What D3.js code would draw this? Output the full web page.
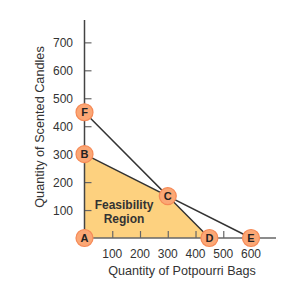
<!DOCTYPE html>
<html>
<head>
<meta charset="utf-8">
<script src="https://d3js.org/d3.v7.min.js"></script>
<style>
body { margin: 0; background: #fff; }
text { font-family: "Liberation Sans", Arial, sans-serif; }
</style>
</head>
<body>
<div id="chart"></div>
<script>
// datos
var xTicks = [100, 200, 300, 400, 500, 600];
var yTicks = [100, 200, 300, 400, 500, 600, 700];
var pointNames = ["A", "B", "C", "D", "E", "F"];
var pointX = [0, 0, 300, 450, 600, 0];
var pointY = [0, 300, 150, 0, 0, 450];
var region = ["A", "B", "C", "D"];
var lineFE = ["F", "C", "E"];
var lineBD = ["B", "C", "D"];

var width = 303, height = 293;

var pts = {};
pointNames.forEach(function(n, i) { pts[n] = {name: n, x: pointX[i], y: pointY[i]}; });

// escalas
var eX = d3.scaleLinear().domain([0, 690]).range([84.5, 276]);
var eY = d3.scaleLinear().domain([0, 780]).range([238, 20]);

var svg = d3.select("#chart").append("svg")
  .attr("width", width)
  .attr("height", height);

// region factible
svg.append("path")
  .attr("d", d3.line().x(function(d){ return eX(pts[d].x); }).y(function(d){ return eY(pts[d].y); })(region) + "Z")
  .style("fill", "#fdd17f");

// ejes
var xAxis = d3.axisTop(eX).tickValues(xTicks).tickSize(7).tickFormat("");
var yAxis = d3.axisRight(eY).tickValues(yTicks).tickSize(7).tickFormat("");

svg.append("g").attr("class", "x axis")
  .attr("transform", "translate(0," + eY(0) + ")")
  .call(xAxis);
svg.append("g").attr("class", "y axis")
  .attr("transform", "translate(" + eX(0) + ",0)")
  .call(yAxis);

svg.selectAll(".axis .domain").remove();
svg.selectAll(".axis line").style("stroke", "#666").style("stroke-width", 1.2);

svg.append("line")
  .attr("x1", eX(0)).attr("x2", eX(690))
  .attr("y1", eY(0)).attr("y2", eY(0))
  .style("stroke", "#666").style("stroke-width", 1.5);
svg.append("line")
  .attr("x1", eX(0)).attr("x2", eX(0))
  .attr("y1", eY(0)).attr("y2", eY(780))
  .style("stroke", "#444").style("stroke-width", 1.5);

// etiquetas de los ejes
svg.selectAll(".xlab").data(xTicks).enter().append("text")
  .attr("x", function(d){ return eX(d); })
  .attr("y", 258)
  .attr("text-anchor", "middle")
  .style("font-size", "12px").style("fill", "#333")
  .text(function(d){ return d; });

svg.selectAll(".ylab").data(yTicks).enter().append("text")
  .attr("x", 73)
  .attr("y", function(d){ return eY(d) + 4.5; })
  .attr("text-anchor", "end")
  .style("font-size", "12px").style("fill", "#333")
  .text(function(d){ return d; });

svg.append("text")
  .attr("x", 182).attr("y", 275)
  .attr("text-anchor", "middle")
  .style("font-size", "12.6px").style("fill", "#333")
  .text("Quantity of Potpourri Bags");

svg.append("text")
  .attr("transform", "translate(44,127) rotate(-90)")
  .attr("text-anchor", "middle")
  .style("font-size", "12.7px").style("fill", "#333")
  .text("Quantity of Scented Candles");

// restricciones
[lineFE, lineBD].forEach(function(l) {
  svg.append("path")
    .attr("d", d3.line().x(function(d){ return eX(pts[d].x); }).y(function(d){ return eY(pts[d].y); })(l))
    .style("fill", "none").style("stroke", "#333").style("stroke-width", 1.5);
});

svg.append("text")
  .attr("x", 124).attr("y", 209)
  .attr("text-anchor", "middle")
  .style("font-size", "12px").style("font-weight", "bold").style("fill", "#333")
  .text("Feasibility");
svg.append("text")
  .attr("x", 124).attr("y", 223)
  .attr("text-anchor", "middle")
  .style("font-size", "12px").style("font-weight", "bold").style("fill", "#333")
  .text("Region");

// puntos
var nodes = svg.selectAll(".pt").data(pointNames.map(function(n){ return pts[n]; }))
  .enter().append("g")
  .attr("transform", function(d){ return "translate(" + eX(d.x) + "," + eY(d.y) + ")"; });

nodes.append("circle")
  .attr("r", 8.5)
  .style("fill", "#fba775")
  .style("stroke", "#f68a57")
  .style("stroke-width", 1.2);

nodes.append("text")
  .attr("y", 4)
  .attr("text-anchor", "middle")
  .style("font-size", "11px").style("font-weight", "bold").style("fill", "#222")
  .text(function(d){ return d.name; });
</script>
</body>
</html>
